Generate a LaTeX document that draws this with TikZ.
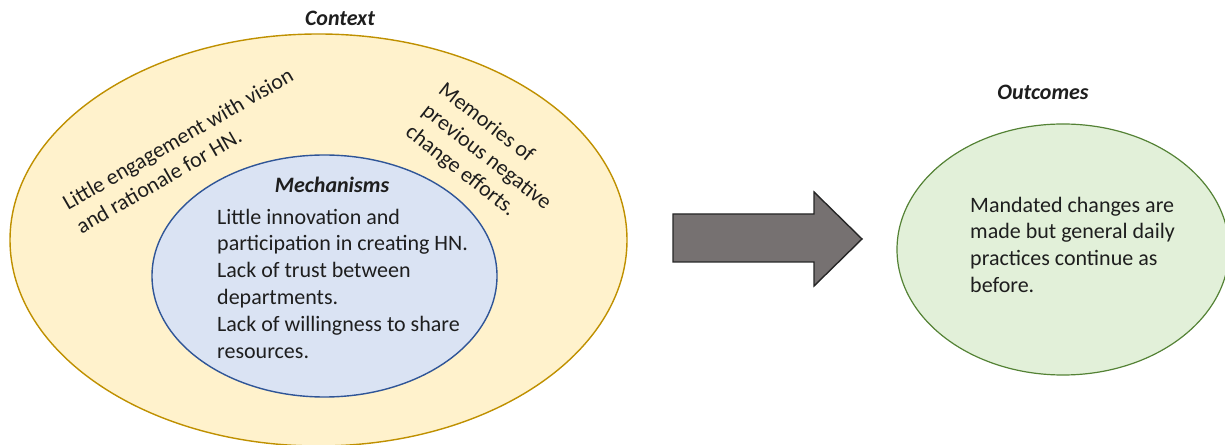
\documentclass[tikz,border=0pt]{standalone}
\usepackage{fontspec}
\setmainfont{Carlito}
\usetikzlibrary{shapes.geometric}
\definecolor{ctxfill}{HTML}{FFF2CC}
\definecolor{ctxdraw}{HTML}{BF9000}
\definecolor{mecfill}{HTML}{DAE3F3}
\definecolor{mecdraw}{HTML}{2F5597}
\definecolor{outfill}{HTML}{E2F0D9}
\definecolor{outdraw}{HTML}{548235}
\definecolor{arrfill}{HTML}{767171}
\definecolor{arrdraw}{HTML}{262626}
\definecolor{txt}{HTML}{1E1E1E}
\tikzset{
  oval/.style={ellipse, inner sep=0pt, line width=1.4pt},
  body/.style={font=\fontsize{22}{26.8}\selectfont, text=txt, align=left, inner sep=0pt},
  heading/.style={font=\fontsize{22}{26.8}\selectfont\bfseries\itshape, text=txt, inner sep=0pt},
}
\begin{document}
\begin{tikzpicture}[x=1pt,y=1pt]
\useasboundingbox (0,0) rectangle (1225,444);
\clip (0,0) rectangle (1225,444);
% Context ellipse
\node[oval, fill=ctxfill, draw=ctxdraw, minimum width=617pt, minimum height=412pt] (ctx) at (318.5,204) {};
\node[heading] (ctxlabel) at (340,426) {Context};
% Mechanisms ellipse
\node[oval, fill=mecfill, draw=mecdraw, minimum width=345pt, minimum height=242pt] (mec) at (324.5,168) {};
\node[heading] (meclabel) at (332,259) {Mechanisms};
\node[body, anchor=north west] (mectext) at (217,235.4) {Little innovation and\\participation in creating HN.\\Lack of trust between\\departments.\\Lack of willingness to share\\resources.};
% rotated context texts
\node[body, rotate=30] (ctxleft) at (184.5,293.5) {Little engagement with vision\\and rationale for HN.};
\node[body, rotate=-38] (ctxright) at (486.4,286.4) {Memories of\\previous negative\\change efforts.};
% Outcomes ellipse
\node[oval, fill=outfill, draw=outdraw, line width=1.2pt, minimum width=332pt, minimum height=251pt] (out) at (1063,194.5) {};
\node[heading] (outlabel) at (1043,352) {Outcomes};
\node[body, anchor=north west] (outtext) at (970,247.4) {Mandated changes are\\made but general daily\\practices continue as\\before.};
% block arrow
\coordinate (a1) at (673,230);
\coordinate (a2) at (814,230);
\coordinate (a3) at (814,252);
\coordinate (tip) at (862,205);
\coordinate (a5) at (814,158);
\coordinate (a6) at (814,182);
\coordinate (a7) at (673,182);
\draw[fill=arrfill, draw=arrdraw, line width=1.4pt, line join=miter] (a1) -- (a2) -- (a3) -- (tip) -- (a5) -- (a6) -- (a7) -- cycle;
\end{tikzpicture}
\end{document}
